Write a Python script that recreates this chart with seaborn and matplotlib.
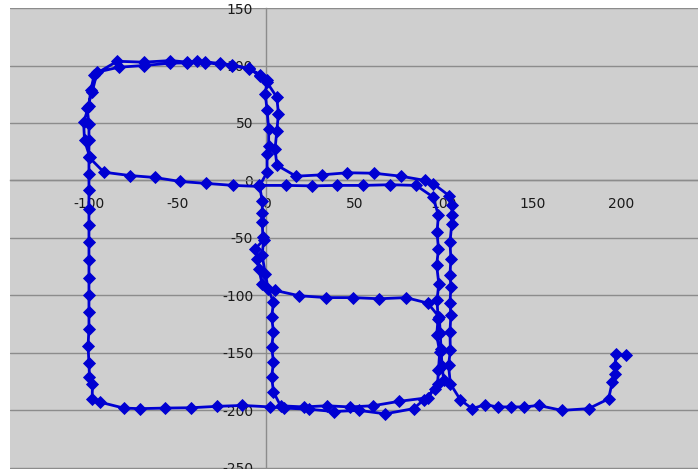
import numpy as np
import pandas as pd
import matplotlib
matplotlib.use('Agg')
import matplotlib.pyplot as plt
import seaborn as sns

# ---- path data, in driving order ----
# leg 1: just below origin, up to origin, right along y~-4, down the x~97 corridor
leg1_x = [-2.0, -2.3, -2.3, -2.3, -3.9, 10.9, 25.6, 40.0, 54.7, 69.7, 84.4, 93.8,
          97.0, 96.2, 97.0, 96.0, 97.2, 96.2, 96.8, 96.0, 97.7, 97.0, 96.5, 91.0]
leg1_y = [-49.0, -36.0, -28.7, -18.0, -4.3, -4.3, -4.7, -4.3, -4.3, -3.7, -4.3, -14.2,
          -30.0, -45.0, -59.4, -73.9, -89.8, -104.2, -120.2, -134.6, -149.3, -165.2, -176.8, -189.0]

# leg 2: bottom middle going left, up the x~3 corridor, u-turn, y~-100 corridor, down again
leg2_x = [74.5, 60.0, 47.0, 34.0, 21.0, 8.0, 4.0, 3.0, 4.0, 3.0, 4.0, 3.0, 4.0, 1.0,
          -0.6, -2.4, -1.5, -6.2, -5.2, -4.3, -2.4, 5.0, 18.6, 33.8, 48.8, 63.7, 78.7,
          91.0, 97.5, 98.0, 98.5, 99.0, 100.0, 95.2, 88.6]
leg2_y = [-192.2, -196.0, -197.0, -196.0, -197.0, -196.0, -184.0, -171.0, -158.0, -145.0,
          -132.0, -119.0, -106.0, -94.0, -81.0, -65.0, -51.6, -59.4, -68.0, -76.8, -89.8,
          -95.7, -100.3, -101.9, -101.9, -102.9, -101.9, -106.7, -119.0, -133.0, -147.0,
          -161.0, -174.0, -181.0, -191.0]

# leg 3: bottom going left, x~-100 corridor up, outer top of upper loop
leg3_x = [83.0, 67.0, 52.0, 38.0, 24.0, 10.0, 2.3, -13.5, -27.8, -42.3, -57.3, -71.4,
          -80.4, -93.9, -98.2, -98.0, -99.7, -100.0, -100.5, -100.0, -100.0, -100.0,
          -100.0, -100.0, -100.0, -100.0, -100.0, -100.0, -100.0, -100.0, -99.5,
          -102.5, -103.0, -100.0, -99.0, -97.0, -84.1, -69.1, -54.1, -44.7, -39.0,
          -34.4, -25.9, -19.3, -10.0, -3.4, 0.4]
leg3_y = [-198.5, -203.0, -200.0, -201.0, -199.0, -198.0, -197.0, -195.7, -196.5, -197.7,
          -198.0, -198.5, -198.0, -192.8, -189.8, -177.0, -171.0, -159.0, -144.0, -129.0,
          -114.0, -99.4, -84.6, -69.6, -53.6, -38.5, -24.6, -8.7, 5.8, 20.3, 20.3,
          34.8, 50.7, 65.2, 78.3, 92.0, 103.7, 102.9, 104.3, 103.0, 103.7,
          103.0, 101.8, 100.5, 97.5, 92.0, 87.0]

# leg 4: x~0 corridor down, y~0 going left, inner top of upper loop
leg4_x = [-0.6, 0.4, 1.3, 1.3, 0.4, 0.4, -4.0, -18.6, -33.8, -48.4, -63.0, -77.0, -91.6,
          -100.0, -100.0, -100.0, -101.0, -98.2, -95.4, -83.2, -69.1, -54.1, -44.7,
          -34.4, -25.9, -19.3, -10.0, -3.4, 0.2]
leg4_y = [75.4, 60.9, 45.0, 30.4, 23.2, 7.2, -5.2, -4.3, -2.6, -0.9, 2.6, 4.3, 7.2,
          20.3, 34.8, 49.3, 63.0, 76.8, 94.2, 98.5, 100.0, 102.0, 102.3,
          102.3, 101.4, 100.0, 97.1, 91.3, 85.7]

# leg 5: x~5 corridor, upper middle, x~104 corridor, out to the right end
leg5_x = [5.9, 6.8, 5.9, 4.9, 5.9, 16.7, 31.3, 45.6, 60.8, 75.9, 89.5, 94.2, 103.2, 104.6,
          104.6, 104.5, 103.5, 104.0, 103.5, 104.0, 103.5, 104.0, 103.5, 103.7, 102.7,
          103.7, 109.3, 115.9, 123.4, 130.3, 137.8, 145.4, 153.4, 166.6, 181.6, 192.9,
          195.0, 196.6, 196.6, 197.0, 202.6]
leg5_y = [72.4, 58.0, 42.8, 27.8, 13.3, 3.7, 4.9, 6.7, 6.3, 3.7, 0.0, -2.9, -13.5, -21.7,
          -30.4, -37.7, -53.7, -68.0, -82.3, -92.5, -106.9, -117.0, -131.6, -147.8, -160.9,
          -176.8, -190.7, -198.5, -195.0, -197.0, -197.0, -197.0, -195.7, -200.0, -198.5, -190.0,
          -175.0, -168.0, -161.0, -150.7, -152.2]

x_ticks = [-150, -100, -50, 0, 50, 100, 150, 200, 250]
y_ticks = [-250, -200, -150, -100, -50, 0, 50, 100, 150]

path = pd.DataFrame({
    'x': leg1_x + leg2_x + leg3_x + leg4_x + leg5_x,
    'y': leg1_y + leg2_y + leg3_y + leg4_y + leg5_y,
})

sns.set_style('white')
plt.rcParams['font.family'] = ['DejaVu Sans']

fig = plt.figure(figsize=(6.98, 4.69), dpi=100)
ax = fig.add_axes([10 / 698, 0, 688 / 698, (469 - 7.8) / 469])
ax.set_facecolor('#cfcfcf')

# horizontal gridlines under the data
for yv in y_ticks:
    ax.axhline(yv, color='#8c8c8c', linewidth=1.0, zorder=0.5)

sns.lineplot(data=path, x='x', y='y', sort=False, estimator=None, ax=ax,
             color='#0000d2', linewidth=2.0, marker='D', markersize=6,
             markeredgecolor='#0000d2', markeredgewidth=0.6, zorder=1)

ax.set_xticks(x_ticks)
ax.set_yticks(y_ticks)
ax.set_xticklabels([str(v) for v in x_ticks])
ax.set_yticklabels([str(v) for v in y_ticks])
# limits after the ticks, so the ticks do not widen the view
ax.set_xlim(-144.5, 243.3)
ax.set_ylim(-251.0, 150.2)
ax.set_xlabel('')
ax.set_ylabel('')

# Excel-style axes crossing at the origin
ax.spines['left'].set_position(('data', 0))
ax.spines['bottom'].set_position(('data', 0))
ax.spines['top'].set_visible(False)
ax.spines['right'].set_visible(False)
for s in ['left', 'bottom']:
    ax.spines[s].set_color('#8c8c8c')
    ax.spines[s].set_linewidth(1.0)
    ax.spines[s].set_zorder(0.6)

ax.tick_params(axis='x', direction='out', length=3, width=1, color='#8c8c8c',
               pad=9, labelsize=10, labelcolor='#1a1a1a')
ax.tick_params(axis='y', direction='out', length=3, width=1, color='#8c8c8c',
               pad=6.5, labelsize=10, labelcolor='#1a1a1a')

fig.savefig('out.png', dpi=100)
